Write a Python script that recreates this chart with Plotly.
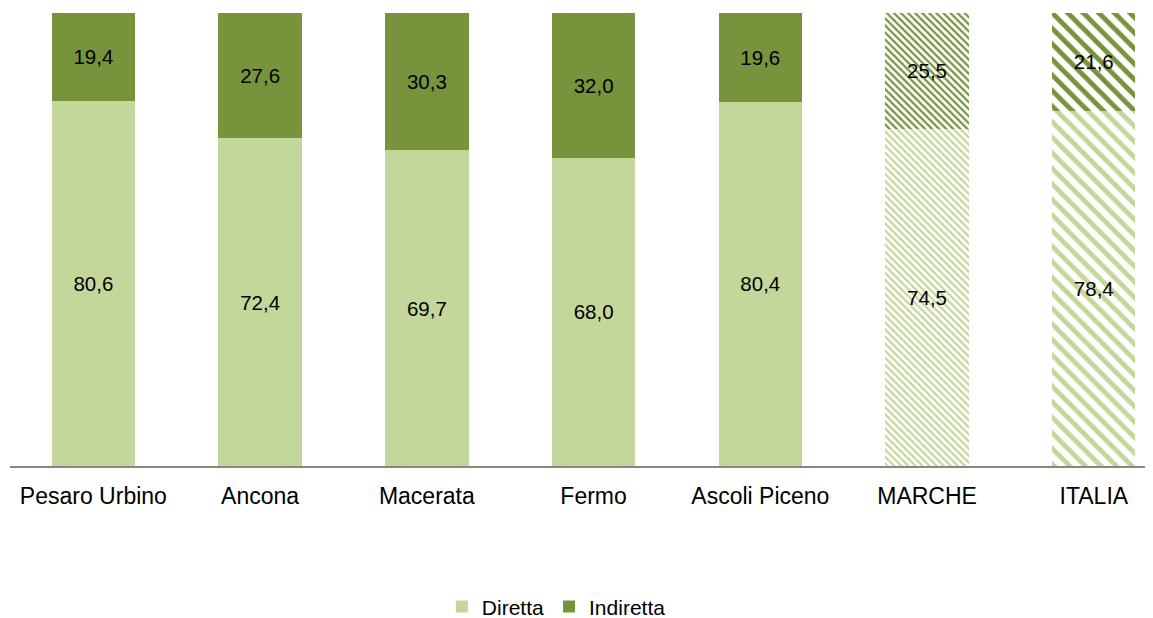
import plotly.graph_objects as go

categories = ["Pesaro Urbino", "Ancona", "Macerata", "Fermo", "Ascoli Piceno", "MARCHE", "ITALIA"]
diretta = [80.6, 72.4, 69.7, 68.0, 80.4, 74.5, 78.4]
indiretta = [19.4, 27.6, 30.3, 32.0, 19.6, 25.5, 21.6]

light = "#C4D79B"
dark = "#77933C"
shapes = ["", "", "", "", "", "\\", "\\"]
sizes = [8, 8, 8, 8, 8, 5, 11]

FONT = "Liberation Sans, Arial"

fig = go.Figure()
for name, vals, col in [("Diretta", diretta, light), ("Indiretta", indiretta, dark)]:
    fig.add_trace(go.Bar(
        x=categories, y=vals, name=name,
        marker=dict(color=col, line=dict(width=0),
                    pattern=dict(shape=shapes, size=sizes, fgcolor=col, bgcolor="white",
                                 fillmode="replace", solidity=0.45)),
        texttemplate="%{y:.1f}", textposition="inside", insidetextanchor="middle",
        textfont=dict(family=FONT, size=20.5, color="black"),
        constraintext="none",
        width=0.5,
    ))

fig.update_layout(
    barmode="stack",
    width=1145, height=610,
    margin=dict(l=2, r=0, t=5, b=152, autoexpand=False),
    paper_bgcolor="white", plot_bgcolor="white",
    separators=",.",
    font=dict(family=FONT, size=20, color="black"),
    showlegend=True,
    legend=dict(orientation="h", x=0.478, xanchor="center", y=-0.311, yanchor="middle",
                font=dict(size=21), itemwidth=30, traceorder="normal"),
    xaxis=dict(range=[-0.5, 6.355], showline=True, linecolor="#868686", linewidth=2,
               ticks="", ticklabelstandoff=8, tickfont=dict(size=23), showgrid=False),
    yaxis=dict(range=[0, 100], visible=False, showgrid=False),
)
fig.write_html("out.html")
